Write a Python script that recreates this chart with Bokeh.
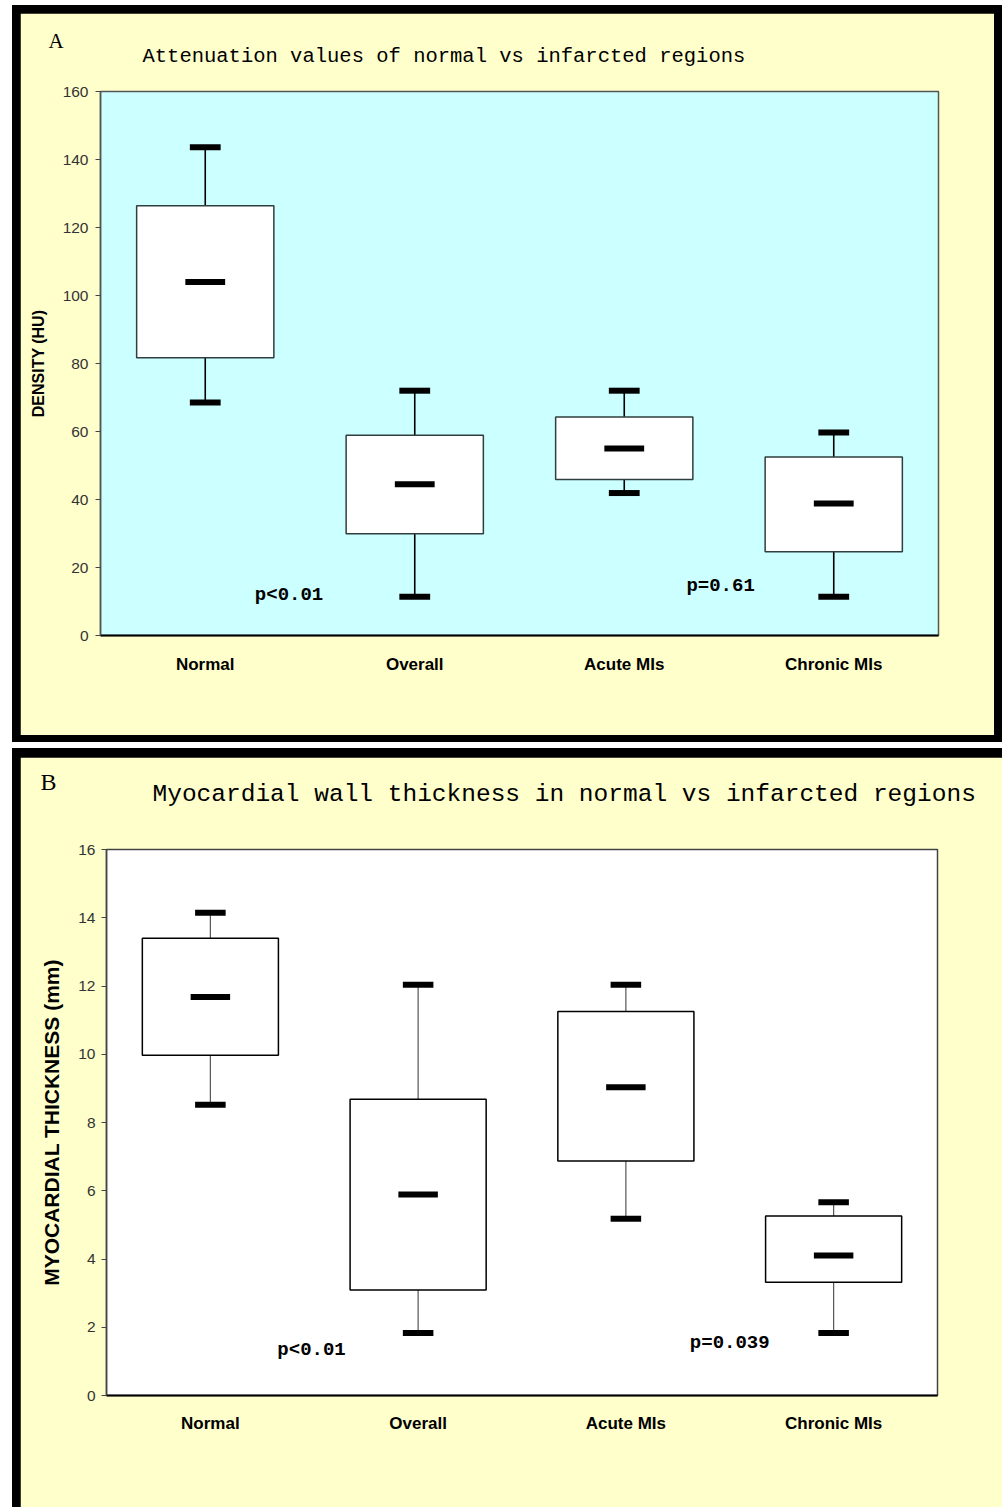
from bokeh.plotting import figure
from bokeh.models import FactorRange, Range1d, ColumnDataSource, FixedTicker, Title
from bokeh.layouts import column
from bokeh.embed import file_html
from bokeh.resources import INLINE
from bokeh.core.properties import value

categories = ["Normal", "Overall", "Acute MIs", "Chronic MIs"]

# Panel A: attenuation (HU)
a_letter = "A"
a_title = "Attenuation values of normal vs infarcted regions"
a_ylabel = "DENSITY (HU)"
a_lower = [68.5, 11.4, 41.9, 11.4]
a_q1 = [81.7, 29.9, 45.9, 24.6]
a_median = [104.0, 44.5, 55.0, 38.8]
a_q3 = [126.4, 58.9, 64.3, 52.5]
a_upper = [143.6, 72.0, 72.0, 59.7]
a_ticks = [0, 20, 40, 60, 80, 100, 120, 140, 160]
a_pvalues = ["p<0.01", "p=0.61"]
a_p_category = ["Overall", "Chronic MIs"]
a_p_level = [11.8, 14.7]

# Panel B: myocardial wall thickness (mm)
b_letter = "B"
b_title = "Myocardial wall thickness in normal vs infarcted regions"
b_ylabel = "MYOCARDIAL THICKNESS (mm)"
b_lower = [8.52, 1.83, 5.18, 1.83]
b_q1 = [9.97, 3.09, 6.87, 3.32]
b_median = [11.68, 5.89, 9.03, 4.10]
b_q3 = [13.4, 8.68, 11.25, 5.26]
b_upper = [14.15, 12.04, 12.04, 5.66]
b_ticks = [0, 2, 4, 6, 8, 10, 12, 14, 16]
b_pvalues = ["p<0.01", "p=0.039"]
b_p_category = ["Overall", "Chronic MIs"]
b_p_level = [1.32, 1.54]

YELLOW = "#FFFFCC"
NBSP = "\u00a0"


def make_panel(letter, title, ylabel, lower, q1, med, q3, upper, ticks,
               pvals, pcat, plevel, p_offsets, width, height, borders, bg, frame_col,
               box_col, whisker_col, whisker_w, title_size, title_offset, spacer,
               letter_size, letter_offset, letter_standoff,
               ylabel_size, label_standoff, tick_standoff, xlabel_standoff):
    left, right, top, bottom = borders
    p = figure(width=width, height=height, x_range=FactorRange(*categories, range_padding=0),
               y_range=Range1d(ticks[0], ticks[-1]), output_backend="svg",
               toolbar_location=None, min_border_left=left, min_border_right=right,
               min_border_top=top, min_border_bottom=bottom, title=None)
    p.background_fill_color = bg
    p.border_fill_color = YELLOW
    p.outline_line_color = frame_col
    p.outline_line_width = 1.5
    p.grid.grid_line_color = None

    # spacer, title and panel letter stacked above the frame
    p.add_layout(Title(text=NBSP, text_font_size="1px", standoff=spacer), "above")
    p.add_layout(Title(text=title, align="left", offset=title_offset, standoff=0,
                       text_font="Liberation Mono", text_font_style="normal",
                       text_font_size=title_size, text_color="black"), "above")
    p.add_layout(Title(text=letter, align="left", offset=letter_offset,
                       standoff=letter_standoff, text_font="Liberation Serif",
                       text_font_style="normal", text_font_size=letter_size,
                       text_color="black"), "above")

    xa = p.xaxis[0]
    xa.axis_line_color = "black"
    xa.axis_line_width = 2
    xa.major_tick_line_color = None
    xa.minor_tick_line_color = None
    xa.major_label_standoff = xlabel_standoff
    xa.major_label_text_font = "Liberation Sans"
    xa.major_label_text_font_style = "bold"
    xa.major_label_text_font_size = "17px"
    xa.major_label_text_color = "black"

    ya = p.yaxis[0]
    ya.ticker = FixedTicker(ticks=ticks)
    ya.axis_line_color = frame_col
    ya.axis_line_width = 1.5
    ya.major_tick_out = 5
    ya.major_tick_in = 0
    ya.major_tick_line_color = "#444444"
    ya.minor_tick_line_color = None
    ya.major_label_standoff = tick_standoff
    ya.major_label_text_font = "Liberation Sans"
    ya.major_label_text_font_size = "15.5px"
    ya.major_label_text_color = "#333333"
    ya.axis_label = ylabel
    ya.axis_label_text_font = "Liberation Sans"
    ya.axis_label_text_font_style = "bold"
    ya.axis_label_text_font_size = ylabel_size
    ya.axis_label_text_color = "black"
    ya.axis_label_standoff = label_standoff

    src = ColumnDataSource(dict(cat=categories, lower=lower, q1=q1, med=med, q3=q3, upper=upper))
    p.segment(x0="cat", y0="q3", x1="cat", y1="upper", source=src,
              line_color=whisker_col, line_width=whisker_w)
    p.segment(x0="cat", y0="q1", x1="cat", y1="lower", source=src,
              line_color=whisker_col, line_width=whisker_w)
    p.vbar(x="cat", width=0.655, bottom="q1", top="q3", source=src,
           fill_color="white", line_color=box_col, line_width=1.5)
    p.rect(x="cat", y="upper", width=0.147, height=6, height_units="screen", source=src,
           fill_color="black", line_color=None)
    p.rect(x="cat", y="lower", width=0.147, height=6, height_units="screen", source=src,
           fill_color="black", line_color=None)
    p.rect(x="cat", y="med", width=0.19, height=6, height_units="screen", source=src,
           fill_color="black", line_color=None)

    psrc = ColumnDataSource(dict(x=[(c, o) for c, o in zip(pcat, p_offsets)], y=plevel, t=pvals))
    p.text(x="x", y="y", text="t", source=psrc, text_font=value("Liberation Mono"),
           text_font_style="bold", text_font_size="19px", text_align="center",
           text_baseline="middle", text_color="black")
    return p


pA = make_panel(a_letter, a_title, a_ylabel, a_lower, a_q1, a_median, a_q3, a_upper, a_ticks,
                a_pvalues, a_p_category, a_p_level, [-0.6, -0.54], 974, 722, (80, 56, 78, 100),
                "#CCFFFF", "#555555", "#2F3F3F", "black", 1.6, "20.5px", 42, 21,
                "21px", -52, -20, "16px", 13, 7, 13)
pB = make_panel(b_letter, b_title, b_ylabel, b_lower, b_q1, b_median, b_q3, b_upper, b_ticks,
                b_pvalues, b_p_category, b_p_level, [-0.513, -0.5], 982, 750, (86, 65, 92, 112),
                "white", "#444444", "black", "#555555", 1.2, "24.5px", 46, 39,
                "24px", -66, -33, "21px", 12, 6, 12)
pA.margin = (8, 8, 7, 8)
pB.margin = (9, 0, 0, 8)

colA = column(pA, styles={"background-color": "black"})
colB = column(pB, styles={"background-color": "black"})
layout = column(colA, colB, spacing=6, margin=(5, 0, 0, 12))

open("out.html", "w").write(file_html(layout, INLINE))
